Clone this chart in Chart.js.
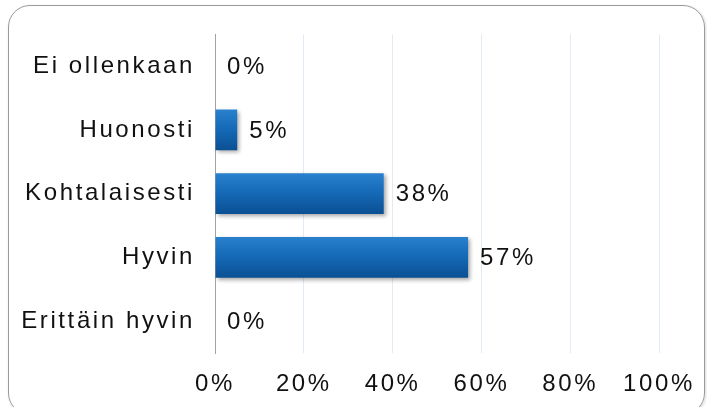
<!DOCTYPE html>
<html>
<head>
<meta charset="utf-8">
<script src="https://cdn.jsdelivr.net/npm/chart.js@4/dist/chart.umd.min.js"></script>
<style>
  html, body { margin: 0; padding: 0; background: #fff; }
  #wrap { position: relative; width: 707px; height: 407px; }
  #frame {
    position: absolute; left: 8px; top: 5px; width: 697px; height: 410px;
    border: 1px solid #9a9a9a; border-radius: 22px; box-sizing: border-box;
    box-shadow: 1px 1px 3px rgba(0,0,0,0.15);
  }
  canvas { position: absolute; left: 0; top: 0; }
</style>
</head>
<body>
<div id="wrap">
  <div id="frame"></div>
  <canvas id="chart" width="707" height="407"></canvas>
</div>
<script>
const categories = ['Ei ollenkaan', 'Huonosti', 'Kohtalaisesti', 'Hyvin', 'Erittäin hyvin'];
const shares = [0, 5, 38, 57, 0];
const xTicks = [0, 20, 40, 60, 80, 100];

const FONT = { family: "'Liberation Sans', Arial, sans-serif", size: 24 };
const TEXT = '#111111';
const TRACKING = '2.6px';

// slightly wider tracking on every piece of canvas text
const spacing = {
  id: 'spacing',
  beforeUpdate(chart) { chart.ctx.letterSpacing = TRACKING; },
  beforeDraw(chart) { chart.ctx.letterSpacing = TRACKING; }
};

// soft drop shadow under the bars
const barShadow = {
  id: 'barShadow',
  beforeDatasetsDraw(chart) {
    const ctx = chart.ctx;
    ctx.save();
    ctx.shadowColor = 'rgba(0,0,0,0.35)';
    ctx.shadowBlur = 4;
    ctx.shadowOffsetX = 2;
    ctx.shadowOffsetY = 2;
  },
  afterDatasetsDraw(chart) { chart.ctx.restore(); }
};

// percentage text just past the end of each bar
const valueLabels = {
  id: 'valueLabels',
  afterDraw(chart) {
    const ctx = chart.ctx;
    const meta = chart.getDatasetMeta(0);
    ctx.save();
    ctx.letterSpacing = TRACKING;
    ctx.font = FONT.size + 'px ' + FONT.family;
    ctx.fillStyle = TEXT;
    ctx.textAlign = 'left';
    ctx.textBaseline = 'middle';
    meta.data.forEach((bar, i) => {
      ctx.fillText(shares[i] + '%', bar.x + 12, bar.y + 1);
    });
    ctx.restore();
  }
};

function barFill(context) {
  const chart = context.chart;
  const y = chart.scales.y;
  if (!chart.chartArea || !y) return '#1566b0';
  const c = y.getPixelForValue(context.dataIndex);
  const g = chart.ctx.createLinearGradient(0, c - 21, 0, c + 21);
  g.addColorStop(0, '#2a82cf');
  g.addColorStop(0.5, '#1468b5');
  g.addColorStop(1, '#0b4f92');
  return g;
}

new Chart(document.getElementById('chart'), {
  type: 'bar',
  data: {
    labels: categories,
    datasets: [{
      data: shares,
      backgroundColor: barFill,
      borderWidth: 0,
      barPercentage: 0.8,
      categoryPercentage: 0.8
    }]
  },
  options: {
    indexAxis: 'y',
    responsive: false,
    animation: false,
    layout: { padding: { top: 29, right: 48, left: 0, bottom: 0 } },
    plugins: { legend: { display: false }, tooltip: { enabled: false } },
    scales: {
      x: {
        min: 0,
        max: 100,
        afterBuildTicks(scale) { scale.ticks = xTicks.map(v => ({ value: v })); },
        afterFit(scale) {
          scale.height = 54;
          scale.paddingLeft = 0;
          scale.paddingRight = 0;
        },
        grid: { color: '#e1ebf5', lineWidth: 1, drawTicks: false },
        border: { display: false },
        ticks: {
          padding: 17,
          color: TEXT,
          font: FONT,
          callback: v => v + '%'
        }
      },
      y: {
        afterFit(scale) { scale.width = 215; },
        grid: { display: false, drawTicks: false },
        border: { display: true, color: '#a3a3a3', width: 1 },
        ticks: { padding: 20, color: TEXT, font: FONT }
      }
    }
  },
  plugins: [spacing, barShadow, valueLabels]
});
</script>
</body>
</html>
